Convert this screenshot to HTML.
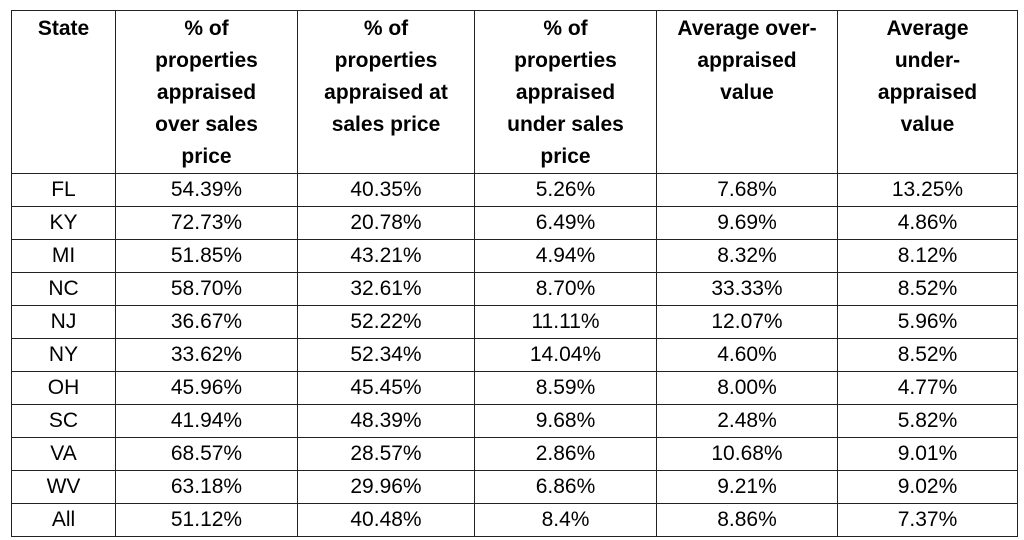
<!DOCTYPE html>
<html><head><meta charset="utf-8"><style>
html,body{margin:0;padding:0;background:#fff;width:1024px;height:540px;overflow:hidden}
table{position:absolute;left:11px;top:10px;border-collapse:collapse;font-family:"Liberation Sans",sans-serif;color:#000}
td,th{border:1.5px solid #222;text-align:center;padding:0;font-size:21px}
th{font-weight:bold;vertical-align:top;height:156px;line-height:32px;padding-top:2px}
td{height:32px;line-height:32px}
</style></head><body>
<table>
<colgroup><col style="width:104px"><col style="width:182px"><col style="width:177px"><col style="width:182px"><col style="width:181px"><col style="width:180px"></colgroup>
<tr><th>State</th><th>% of<br>properties<br>appraised<br>over sales<br>price</th><th>% of<br>properties<br>appraised at<br>sales price</th><th>% of<br>properties<br>appraised<br>under sales<br>price</th><th>Average over-<br>appraised<br>value</th><th>Average<br>under-<br>appraised<br>value</th></tr>
<tr><td>FL</td><td>54.39%</td><td>40.35%</td><td>5.26%</td><td>7.68%</td><td>13.25%</td></tr>
<tr><td>KY</td><td>72.73%</td><td>20.78%</td><td>6.49%</td><td>9.69%</td><td>4.86%</td></tr>
<tr><td>MI</td><td>51.85%</td><td>43.21%</td><td>4.94%</td><td>8.32%</td><td>8.12%</td></tr>
<tr><td>NC</td><td>58.70%</td><td>32.61%</td><td>8.70%</td><td>33.33%</td><td>8.52%</td></tr>
<tr><td>NJ</td><td>36.67%</td><td>52.22%</td><td>11.11%</td><td>12.07%</td><td>5.96%</td></tr>
<tr><td>NY</td><td>33.62%</td><td>52.34%</td><td>14.04%</td><td>4.60%</td><td>8.52%</td></tr>
<tr><td>OH</td><td>45.96%</td><td>45.45%</td><td>8.59%</td><td>8.00%</td><td>4.77%</td></tr>
<tr><td>SC</td><td>41.94%</td><td>48.39%</td><td>9.68%</td><td>2.48%</td><td>5.82%</td></tr>
<tr><td>VA</td><td>68.57%</td><td>28.57%</td><td>2.86%</td><td>10.68%</td><td>9.01%</td></tr>
<tr><td>WV</td><td>63.18%</td><td>29.96%</td><td>6.86%</td><td>9.21%</td><td>9.02%</td></tr>
<tr><td>All</td><td>51.12%</td><td>40.48%</td><td>8.4%</td><td>8.86%</td><td>7.37%</td></tr>
</table>
</body></html>
